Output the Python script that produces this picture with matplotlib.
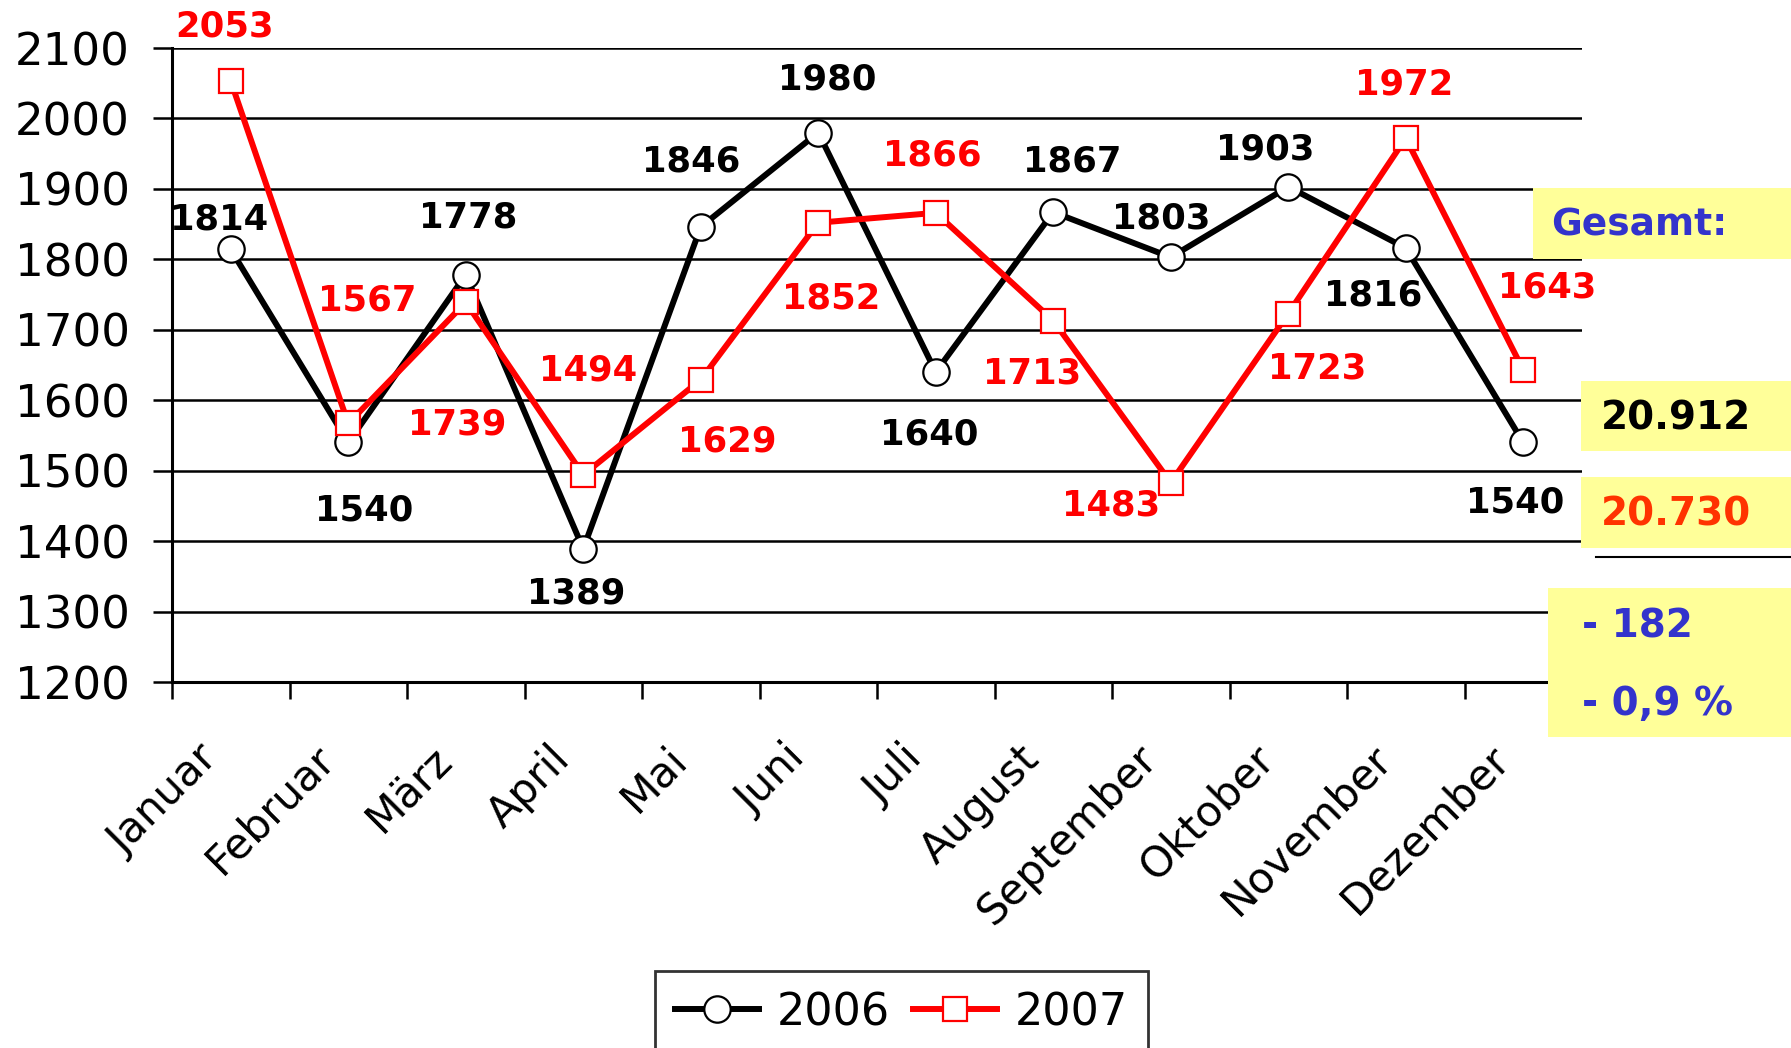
import matplotlib
matplotlib.use("Agg")
import matplotlib.pyplot as plt
from matplotlib.patches import Rectangle
from matplotlib.lines import Line2D
from matplotlib.transforms import ScaledTranslation

months = ["Januar", "Februar", "März", "April", "Mai", "Juni", "Juli",
          "August", "September", "Oktober", "November", "Dezember"]
v2006 = [1814, 1540, 1778, 1389, 1846, 1980, 1640, 1867, 1803, 1903, 1816, 1540]
v2007 = [2053, 1567, 1739, 1494, 1629, 1852, 1866, 1713, 1483, 1723, 1972, 1643]
series_names = ["2006", "2007"]
yticks = list(range(1200, 2101, 100))
summary_title = "Gesamt:"
summary_2006 = "20.912"
summary_2007 = "20.730"
summary_diff = "- 182"
summary_pct = "- 0,9 %"

# label offsets in pixels (style)
off2006 = [(-12, 30), (16, -68), (2, 57), (-7, -45), (-10, 65), (9, 53),
           (-6, -62), (19, 51), (-10, 39), (-23, 37), (-33, -47), (-8, -60)]
off2007 = [(-6, 55), (19, 123), (-9, -122), (5, 104), (26, -62), (13, -76),
           (-3, 57), (-21, -53), (-60, -23), (29, -55), (-2, 54), (24, 82)]

plt.rcParams['font.family'] = ['DejaVu Sans']
W, H = 1791, 1048
fig = plt.figure(figsize=(W / 100, H / 100), dpi=100)
ax = fig.add_axes([172 / W, 1 - 682 / H, (1582 - 172) / W, (682 - 48) / H])

x = list(range(len(months)))
BLUE = "#3333CC"
RED = "#FF0000"

l1, = ax.plot(x, v2006, color="black", lw=4.3, marker="o", ms=19,
              mfc="white", mec="black", mew=1.6, zorder=3, clip_on=False)
l2, = ax.plot(x, v2007, color=RED, lw=4.3, marker="s", ms=17,
              mfc="white", mec=RED, mew=1.6, zorder=4, clip_on=False)

for xi, v, o in zip(x, v2006, off2006):
    ax.annotate(str(v), (xi, v), xytext=o, textcoords="offset pixels",
                ha="center", va="center", fontsize=25.5, fontweight="bold",
                color="black", zorder=5, annotation_clip=False)
for xi, v, o in zip(x, v2007, off2007):
    ax.annotate(str(v), (xi, v), xytext=o, textcoords="offset pixels",
                ha="center", va="center", fontsize=25.5, fontweight="bold",
                color=RED, zorder=5, annotation_clip=False)

ax.set_ylim(1200, 2100)
ax.set_xlim(-0.5, len(months) - 0.5)
ax.set_yticks(yticks)
ax.set_yticklabels([str(t) for t in yticks], fontsize=32.5)
ax.yaxis.grid(True, color="black", lw=1.8)
ax.set_axisbelow(True)
ax.tick_params(axis="y", length=13.5, width=1.8, pad=17, direction="out")

ax.set_xticks(x)
ax.set_xticklabels(months, fontsize=30.5, rotation=45, ha="right",
                   rotation_mode="anchor")
ax.tick_params(axis="x", which="major", length=0, pad=40)
shift = ScaledTranslation(-0.35, 0, fig.dpi_scale_trans)
for lab in ax.get_xticklabels():
    lab.set_transform(lab.get_transform() + shift)
ax.set_xticks([i - 0.5 for i in range(len(months) + 1)], minor=True)
ax.tick_params(axis="x", which="minor", length=12, width=1.8, direction="out")

for s in ["top", "right"]:
    ax.spines[s].set_visible(False)
ax.spines["left"].set_linewidth(2.2)
ax.spines["bottom"].set_linewidth(2.2)

leg = fig.legend([l1, l2], series_names, loc="upper left",
                 bbox_to_anchor=(655 / W, 1 - 971 / H), ncol=2, fontsize=32,
                 frameon=True, fancybox=False, handlelength=1.9,
                 columnspacing=0.5, handletextpad=0.4, borderpad=0.45,
                 borderaxespad=0)
leg.get_frame().set_edgecolor("black")
leg.get_frame().set_linewidth(2)

YEL = "#FFFF99"
def box(x0, y0, x1, y1):
    fig.add_artist(Rectangle((x0 / W, 1 - y1 / H), (x1 - x0) / W, (y1 - y0) / H,
                             transform=fig.transFigure, facecolor=YEL,
                             edgecolor="none", zorder=10))

box(1533, 188, 1791, 259)
box(1581, 381, 1791, 451)
box(1581, 477, 1791, 548)
box(1548, 588, 1791, 737)

fig.text(1551 / W, 1 - 226 / H, summary_title, fontsize=27, fontweight="bold",
         color=BLUE, va="center", ha="left", zorder=11)
fig.text(1601 / W, 1 - 418 / H, summary_2006, fontsize=28, fontweight="bold",
         color="black", va="center", ha="left", zorder=11)
fig.text(1601 / W, 1 - 515 / H, summary_2007, fontsize=28, fontweight="bold",
         color="#FF3300", va="center", ha="left", zorder=11)
fig.text(1582 / W, 1 - 627 / H, summary_diff, fontsize=28, fontweight="bold",
         color=BLUE, va="center", ha="left", zorder=11)
fig.text(1582 / W, 1 - 704 / H, summary_pct, fontsize=28, fontweight="bold",
         color=BLUE, va="center", ha="left", zorder=11)
fig.add_artist(Line2D([1596 / W, 1], [1 - 557 / H, 1 - 557 / H],
                      transform=fig.transFigure, color="black", lw=1.5, zorder=11))

fig.savefig("out.png", dpi=100)
